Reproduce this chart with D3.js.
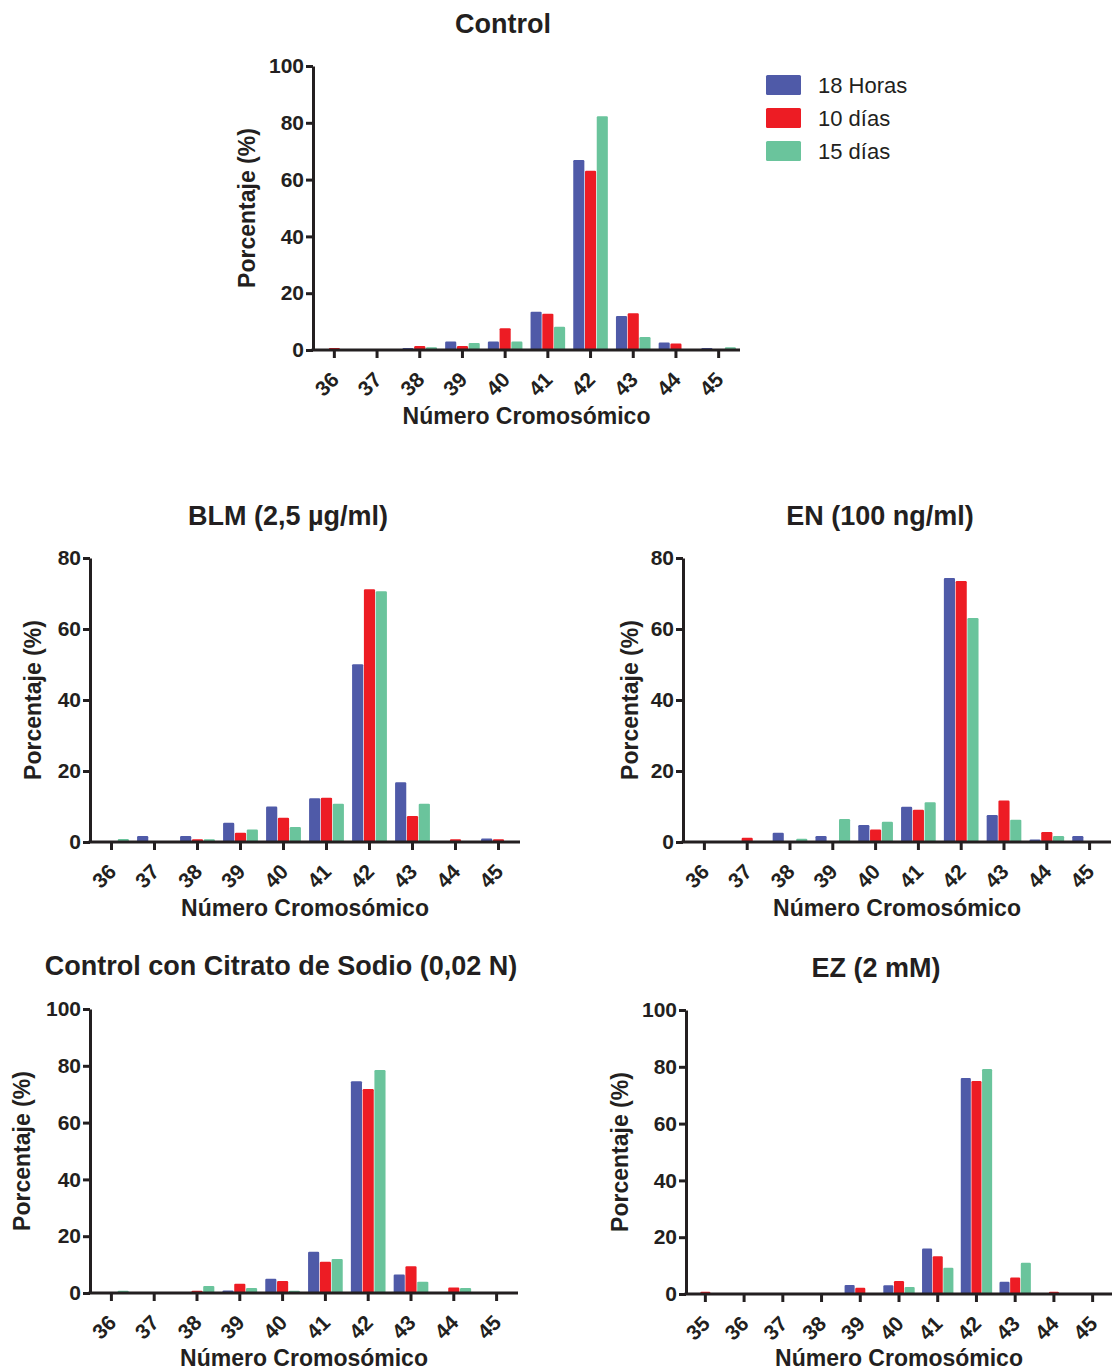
<!DOCTYPE html>
<html>
<head>
<meta charset="utf-8">
<script src="https://cdn.jsdelivr.net/npm/d3@7"></script>
<style>
  html, body { margin: 0; padding: 0; background: #fff; }
  svg text { font-family: "Liberation Sans", Arial, sans-serif; fill: #231F20; }
</style>
</head>
<body>
<svg id="chart" width="1112" height="1372"></svg>
<script>
// ---------- DATA ----------
const seriesNames = ["18 Horas", "10 días", "15 días"];
const seriesColors = ["#4F5AA8", "#ED1C24", "#6AC49C"];

const catsA = ["36", "37", "38", "39", "40", "41", "42", "43", "44", "45"];
const catsEZ = ["35", "36", "37", "38", "39", "40", "41", "42", "43", "44", "45"];

const control18 = [0, 0, 0.7, 3.0, 3.0, 13.5, 66.9, 12.0, 2.6, 0.7];
const control10 = [0.7, 0, 1.4, 1.4, 7.7, 12.8, 63.1, 12.9, 2.3, 0];
const control15 = [0, 0, 1.0, 2.5, 3.0, 8.2, 82.3, 4.6, 0, 1.0];

const blm18 = [0, 1.7, 1.7, 5.4, 10.0, 12.3, 50.1, 16.8, 0, 1.0];
const blm10 = [0, 0, 0.75, 2.6, 6.8, 12.5, 71.2, 7.3, 0.75, 0.75];
const blm15 = [0.85, 0, 0.75, 3.5, 4.2, 10.8, 70.6, 10.8, 0, 0];

const en18 = [0, 0, 2.6, 1.7, 4.8, 9.9, 74.4, 7.6, 0.7, 1.7];
const en10 = [0, 1.2, 0, 0, 3.5, 9.1, 73.5, 11.7, 2.8, 0];
const en15 = [0, 0, 0.9, 6.5, 5.7, 11.2, 63.1, 6.3, 1.7, 0];

const cit18 = [0, 0, 0, 0.9, 5.0, 14.5, 74.6, 6.5, 0, 0];
const cit10 = [0, 0, 0.8, 3.3, 4.2, 11.0, 71.8, 9.4, 1.9, 0];
const cit15 = [0.8, 0, 2.5, 1.8, 0.8, 12.0, 78.5, 4.0, 1.8, 0];

const ez18 = [0, 0, 0, 0, 3.2, 3.1, 16.0, 76.1, 4.3, 0, 0];
const ez10 = [0.8, 0, 0, 0, 2.2, 4.6, 13.3, 75.0, 5.8, 0.8, 0];
const ez15 = [0, 0, 0, 0, 0, 2.5, 9.2, 79.2, 11.0, 0, 0];

const ticks100 = [0, 20, 40, 60, 80, 100];
const ticks80 = [0, 20, 40, 60, 80];

const xTitle = "Número Cromosómico";
const yTitle = "Porcentaje (%)";

// ---------- LAYOUT ----------
const panels = [
  { title: "Control", tx: 503, ty: 33, cats: catsA, data: [control18, control10, control15],
    x0: 313, x1: 740, yTop: 66, yBot: 350, ymax: 100, ticks: ticks100, ytx: 255, xty: 424 },
  { title: "BLM (2,5 µg/ml)", tx: 288, ty: 525, cats: catsA, data: [blm18, blm10, blm15],
    x0: 90, x1: 520, yTop: 558, yBot: 842, ymax: 80, ticks: ticks80, ytx: 41, xty: 916 },
  { title: "EN (100 ng/ml)", tx: 880, ty: 525, cats: catsA, data: [en18, en10, en15],
    x0: 683, x1: 1111, yTop: 558, yBot: 842, ymax: 80, ticks: ticks80, ytx: 638, xty: 916 },
  { title: "Control con Citrato de Sodio (0,02 N)", tx: 281, ty: 975, cats: catsA, data: [cit18, cit10, cit15],
    x0: 90, x1: 518, yTop: 1009, yBot: 1293, ymax: 100, ticks: ticks100, ytx: 30, xty: 1366 },
  { title: "EZ (2 mM)", tx: 876, ty: 977, cats: catsEZ, data: [ez18, ez10, ez15],
    x0: 686, x1: 1112, yTop: 1010, yBot: 1294, ymax: 100, ticks: ticks100, ytx: 628, xty: 1366 }
];

const svg = d3.select("#chart");
const ink = "#231F20";

panels.forEach(p => {
  const g = svg.append("g");
  const x = d3.scaleBand().domain(p.cats).range([p.x0, p.x1]).paddingInner(0).paddingOuter(0);
  const y = d3.scaleLinear().domain([0, p.ymax]).range([p.yBot, p.yTop]);
  const bw = x.bandwidth() * 0.26;
  const step = x.bandwidth() * 0.275;

  // bars
  p.data.forEach((arr, si) => {
    g.append("g").selectAll("rect")
      .data(arr.map((v, i) => ({ c: p.cats[i], v })).filter(d => d.v > 0))
      .join("rect")
      .attr("x", d => x(d.c) + x.bandwidth() / 2 + (si - 1) * step - bw / 2)
      .attr("y", d => y(d.v))
      .attr("width", bw)
      .attr("height", d => y(0) - y(d.v))
      .attr("rx", 1.2)
      .attr("fill", seriesColors[si]);
  });

  // y axis
  const ya = g.append("g").attr("transform", `translate(${p.x0},0)`)
    .call(d3.axisLeft(y).tickValues(p.ticks).tickSize(7).tickSizeOuter(0).tickPadding(2));
  ya.select(".domain").attr("stroke", ink).attr("stroke-width", 3);
  ya.selectAll(".tick line").attr("stroke", ink).attr("stroke-width", 3);
  ya.selectAll(".tick text").attr("font-size", 21).attr("font-weight", "bold")
    .attr("fill", ink).attr("font-family", "'Liberation Sans', Arial, sans-serif");

  // x axis
  const xa = g.append("g").attr("transform", `translate(0,${p.yBot})`)
    .call(d3.axisBottom(x).tickSize(8).tickSizeOuter(0));
  xa.select(".domain").attr("stroke", ink).attr("stroke-width", 3)
    .attr("d", `M${p.x0 - 1.5},0H${p.x1}`);
  xa.selectAll(".tick line").attr("stroke", ink).attr("stroke-width", 3);
  xa.selectAll(".tick text")
    .attr("font-size", 21).attr("font-weight", "bold").attr("fill", ink)
    .attr("font-family", "'Liberation Sans', Arial, sans-serif")
    .attr("text-anchor", "end")
    .attr("dy", null).attr("y", null)
    .attr("transform", "translate(6,31) rotate(-45)");

  // titles
  g.append("text").attr("x", p.tx).attr("y", p.ty).attr("text-anchor", "middle")
    .attr("font-size", 27).attr("font-weight", "bold").text(p.title);
  g.append("text").attr("x", (p.x0 + p.x1) / 2).attr("y", p.xty).attr("text-anchor", "middle")
    .attr("font-size", 23).attr("font-weight", "bold").text(xTitle);
  g.append("text")
    .attr("transform", `translate(${p.ytx},${(p.yTop + p.yBot) / 2}) rotate(-90)`)
    .attr("text-anchor", "middle")
    .attr("font-size", 23).attr("font-weight", "bold").text(yTitle);
});

// legend
const leg = svg.append("g");
seriesNames.forEach((name, i) => {
  const yy = 75 + i * 33;
  leg.append("rect").attr("x", 766).attr("y", yy).attr("width", 35).attr("height", 20)
    .attr("rx", 1.5).attr("fill", seriesColors[i]);
  leg.append("text").attr("x", 818).attr("y", yy + 18).attr("font-size", 22).text(name);
});
</script>
</body>
</html>
